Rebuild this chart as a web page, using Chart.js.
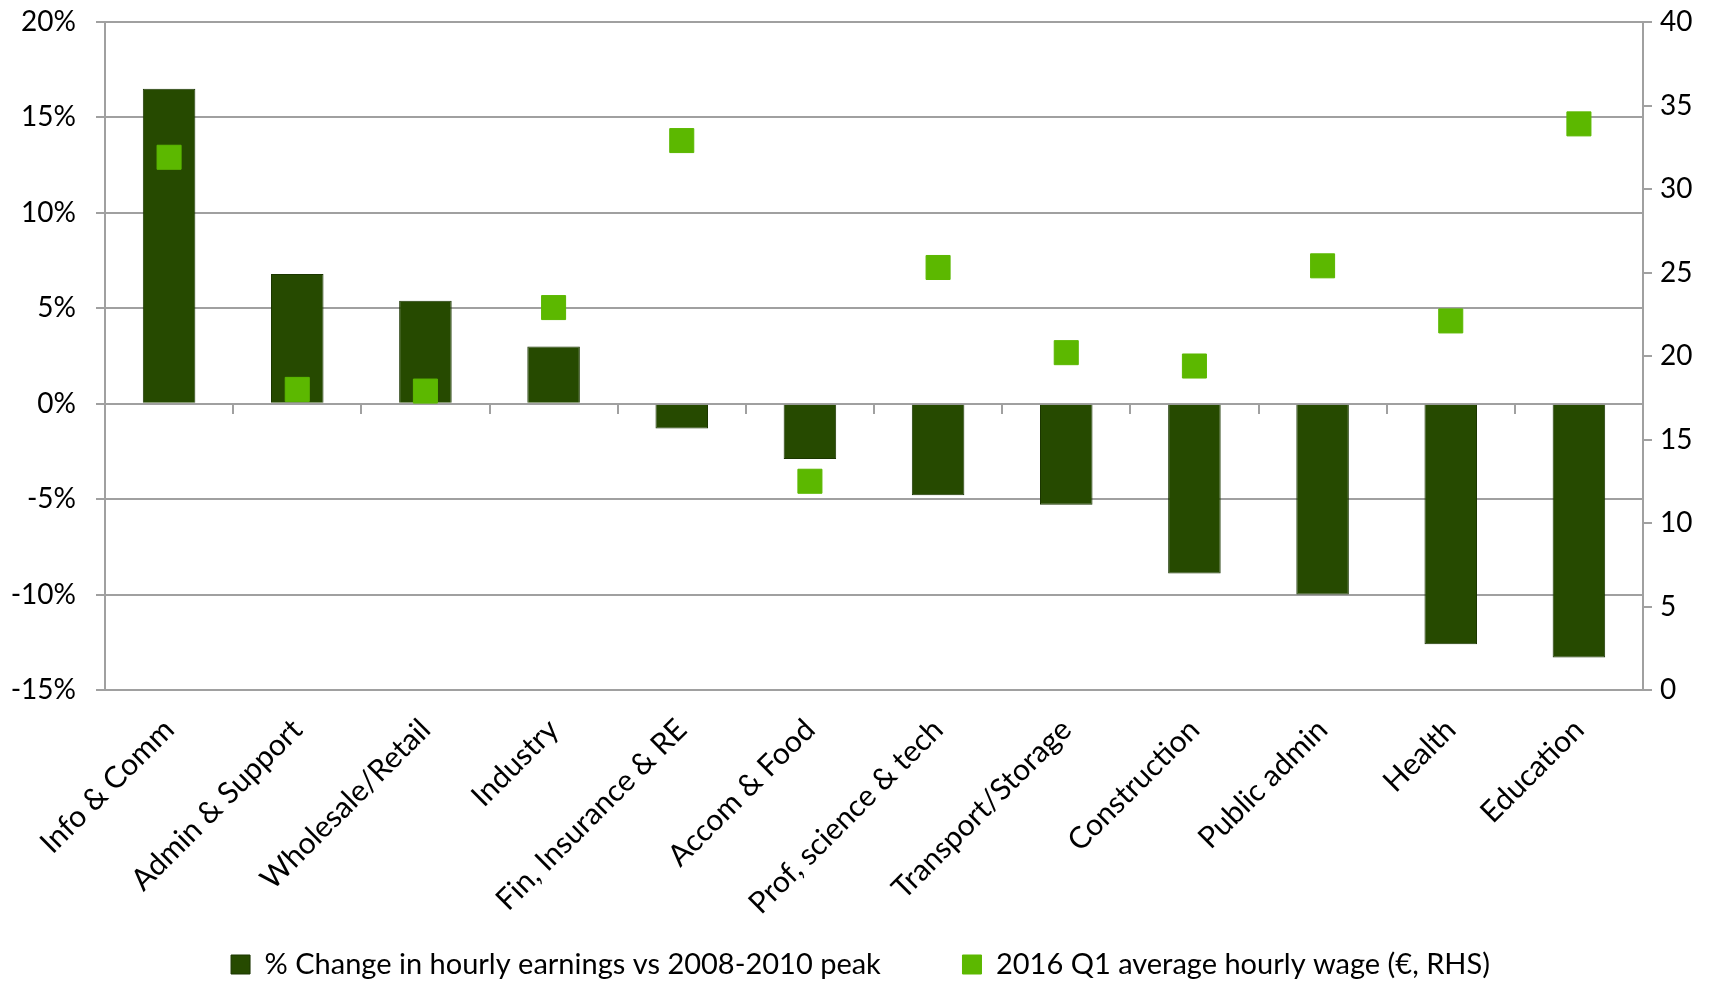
<!DOCTYPE html>
<html>
<head>
<meta charset="utf-8">
<script src="https://cdn.jsdelivr.net/npm/chart.js@4/dist/chart.umd.min.js"></script>
<style>
  html, body { margin: 0; padding: 0; background: #fff; }
  #wrap { width: 1721px; height: 983px; position: relative; }
</style>
</head>
<body>
<div id="wrap"><canvas id="wageChart"></canvas></div>
<script>
const sectors = ['Info & Comm', 'Admin & Support', 'Wholesale/Retail', 'Industry', 'Fin, Insurance & RE',
  'Accom & Food', 'Prof, science & tech', 'Transport/Storage', 'Construction', 'Public admin', 'Health', 'Education'];
const changeVsPeak = [16.5, 6.8, 5.4, 3.0, -1.3, -2.9, -4.8, -5.3, -8.9, -10.0, -12.6, -13.3];
const avgHourlyWage = [31.9, 18.0, 17.9, 22.9, 32.9, 12.5, 25.3, 20.2, 19.4, 25.4, 22.1, 33.9];
const seriesNames = ['% Change in hourly earnings vs 2008-2010 peak', '2016 Q1 average hourly wage (€, RHS)'];

const FONT = 'Lato, "DejaVu Sans", sans-serif';
const GRID = '#a0a0a0';
Chart.defaults.font.family = FONT;
Chart.defaults.color = '#000';

// the tick label overhang shouldn't push the plot area down
function noVertPadding(s) {
    s.paddingTop = 0;
    s.paddingBottom = 0;
}

const ctx = document.getElementById('wageChart').getContext('2d');
new Chart(ctx, {
    type: 'bar',
    data: {
        labels: sectors,
        datasets: [
            {
                label: seriesNames[0],
                data: changeVsPeak,
                backgroundColor: '#264a00',
                borderColor: '#1b3600',
                borderWidth: 1,
                barPercentage: 0.41,
                categoryPercentage: 1,
                yAxisID: 'y',
                order: 2
            },
            {
                type: 'line',
                label: seriesNames[1],
                data: avgHourlyWage,
                showLine: false,
                pointStyle: 'rect',
                pointRadius: 17,
                pointBackgroundColor: '#5cb800',
                pointBorderColor: '#5cb800',
                backgroundColor: '#5cb800',
                borderColor: '#5cb800',
                borderWidth: 1,
                yAxisID: 'y1',
                order: 1
            }
        ]
    },
    options: {
        responsive: true,
        maintainAspectRatio: false,
        animation: false,
        layout: { padding: { top: 22, left: 0, right: 0, bottom: -6 } },
        plugins: {
            tooltip: { enabled: false },
            legend: {
                position: 'bottom',
                labels: {
                    boxWidth: 19,
                    boxHeight: 19,
                    padding: 20,
                    font: { size: 29 },
                    sort: (a, b) => a.datasetIndex - b.datasetIndex,
                    generateLabels: chart => {
                        const items = Chart.defaults.plugins.legend.labels.generateLabels(chart);
                        // widen the gap between the two legend entries
                        items.forEach(it => { if (it.datasetIndex === 0) it.text += '\u2003\u2003\u2002\u2009'; });
                        return items;
                    }
                }
            }
        },
        scales: {
            x: {
                grid: { display: false },
                border: { display: false },
                ticks: {
                    autoSkip: false,
                    maxRotation: 45,
                    minRotation: 45,
                    padding: 14,
                    font: { size: 30 }
                },
                afterFit: s => { s.height = 240; }
            },
            x2: {
                type: 'category',
                labels: sectors,
                position: { y: 0 },
                offset: true,
                grid: { offset: true, drawOnChartArea: false, drawTicks: true, tickLength: 9, color: GRID, lineWidth: 2 },
                border: { display: true, color: GRID, width: 2 },
                ticks: { display: false }
            },
            y: {
                position: 'left',
                min: -15,
                max: 20,
                ticks: {
                    stepSize: 5,
                    padding: 20,
                    font: { size: 28 },
                    callback: v => v + '%'
                },
                grid: { color: GRID, lineWidth: 2, tickLength: 9 },
                border: { color: GRID, width: 2 },
                afterFit: s => { s.width = 105; noVertPadding(s); }
            },
            y1: {
                position: 'right',
                min: 0,
                max: 40,
                ticks: {
                    stepSize: 5,
                    padding: 8,
                    font: { size: 28 }
                },
                grid: { drawOnChartArea: false, color: GRID, lineWidth: 2, tickLength: 9 },
                border: { color: GRID, width: 2 },
                afterFit: s => { s.width = 78; noVertPadding(s); }
            }
        }
    }
});
</script>
</body>
</html>
